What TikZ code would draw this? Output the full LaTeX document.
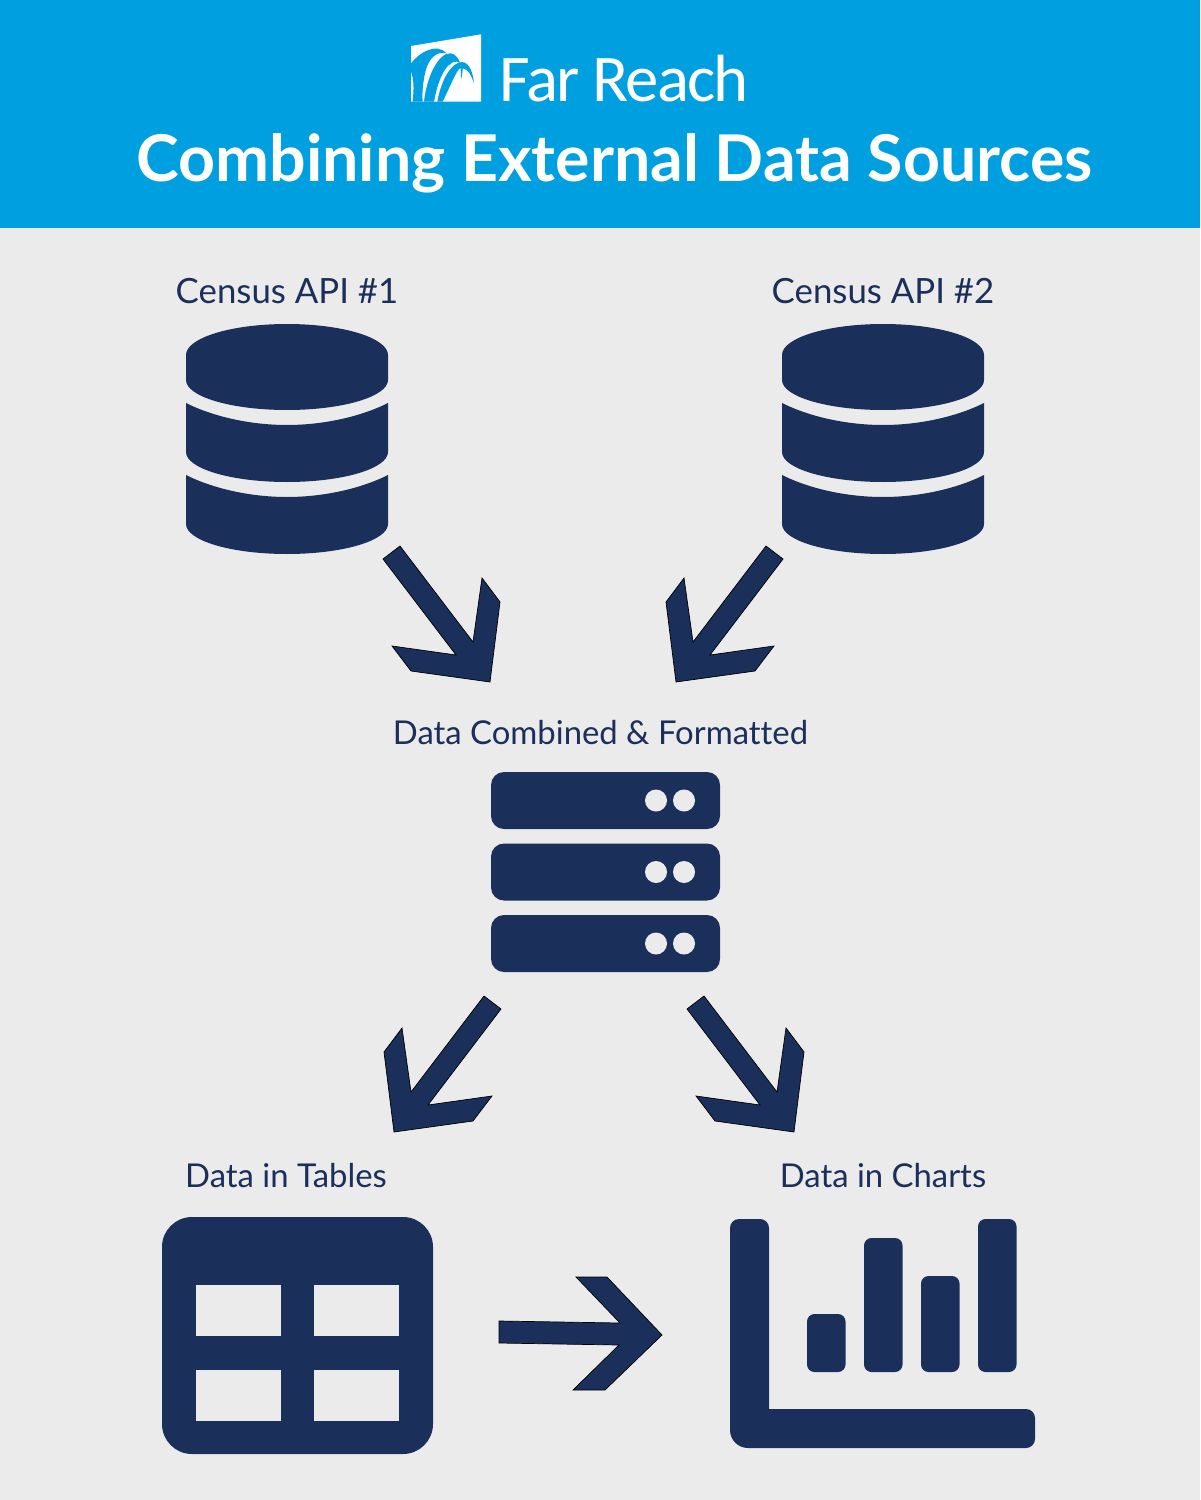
\documentclass[tikz,border=0pt]{standalone}
\usepackage{fontspec}
\setmainfont[Ligatures=NoCommon]{Lato}
\newfontfamily\logofont[LetterSpace=-3]{Carlito}
\usetikzlibrary{positioning}
\definecolor{navy}{HTML}{1B2F5B}
\definecolor{banner}{HTML}{009FDF}
\definecolor{page}{HTML}{EBEBEB}
\begin{document}
\begin{tikzpicture}[x=0.02cm, y=-0.02cm]
\tikzstyle{lbl}=[anchor=base, inner sep=0pt, text=navy, font=\fontsize{18.7}{24}\selectfont]
\tikzstyle{apilbl}=[lbl, font=\fontsize{19.8}{24}\selectfont]
\tikzstyle{ttl}=[anchor=base, inner sep=0pt, text=white]
\tikzstyle{blk}=[fill=navy, draw=black, line width=0.4pt]
\tikzstyle{srvrow}=[fill=navy, rounded corners=0.26cm]
\tikzset{
  database/.pic={
    \fill[navy] (0,31) arc[start angle=180, end angle=360, x radius=101, y radius=31]
      -- (202,56) arc[start angle=0, end angle=180, x radius=101, y radius=30] -- cycle;
    \foreach \dy in {0,72}{
      \fill[navy] (0,79+\dy) .. controls (30,94+\dy) and (68,101+\dy) .. (101,101+\dy)
        .. controls (134,101+\dy) and (172,94+\dy) .. (202,79+\dy)
        -- (202,128+\dy) arc[start angle=0, end angle=180, x radius=101, y radius=30] -- cycle;}
  },
  slantarrow/.pic={
    \draw[blk] (383,559) -- (400,546) -- (473,642) -- (482,578) -- (500,602) -- (490,682)
      -- (411,671) -- (392,646) -- (456,655) -- cycle;
  }
}
\fill[page] (0,0) rectangle (1200,1500);
\fill[banner] (0,0) rectangle (1200,228);
% logo
\begin{scope}[shift={(400,20)}, scale=1/3]
\fill[white] (33,78) -- (243,43) -- (243,245) -- (33,245) -- cycle;
\fill[banner] (33,130) .. controls (60,95) and (110,68) .. (140,100)
  .. controls (112,92) and (84,112) .. (74,165) .. controls (68,195) and (66,225) .. (68,245)
  -- (38,245) .. controls (42,205) and (42,180) .. (33,155) -- cycle;
\fill[banner] (72,245) .. controls (80,170) and (115,100) .. (150,100)
  .. controls (165,100) and (175,115) .. (180,128) .. controls (152,112) and (118,155) .. (102,245) -- cycle;
\fill[banner] (112,245) .. controls (125,175) and (155,128) .. (185,126)
  .. controls (210,126) and (220,165) .. (222,190) .. controls (215,170) and (205,142) .. (180,145)
  .. controls (170,150) and (150,200) .. (128,245) -- cycle;
\fill[banner] (146,110) -- (150,143) -- (153,110) -- cycle;
\fill[banner] (181,135) -- (184,178) -- (190,135) -- cycle;
\end{scope}
\node[ttl, font=\logofont\fontsize{38}{44}\selectfont] (brand) at (624,102) {Far Reach};
\node[ttl, font=\bfseries\fontsize{36.7}{46}\selectfont] (title) at (614.5,182) {Combining External Data Sources};
% labels
\node[apilbl] (api1) at (287,304) {Census API \#1};
\node[apilbl] (api2) at (883,304) {Census API \#2};
\node[lbl] (combined) at (600.5,744) {Data Combined \& Formatted};
\node[lbl] (tables) at (286,1187) {Data in Tables};
\node[lbl] (charts) at (883,1187) {Data in Charts};
\pic at (186,324) {database};
\pic at (782,324) {database};
\foreach \x/\y/\s in {0/0/1, 1166/0/-1, 884/450/-1, 304/450/1}{
\pic[xscale=\s] at (\x,\y) {slantarrow};}
% server
\foreach \y in {772,843.5,915}{
\fill[srvrow] (491,\y) rectangle (720,\y+57);
\fill[page] (656,\y+28.5) circle (11) (684,\y+28.5) circle (11);}
% table
\fill[navy, rounded corners=0.6cm] (162,1217) rectangle (433,1454);
\foreach \x in {196,314}{
\foreach \y in {1285,1370}{
\fill[page] (\x,\y) rectangle (\x+85,\y+51);}}
\draw[blk] (499,1321) -- (620,1323) -- (576,1277) -- (607,1277) -- (662,1335) -- (605,1390)
  -- (573,1390) -- (619,1345) -- (499,1343) -- cycle;
% chart
\fill[navy] (739,1219) -- (760,1219) arc[start angle=-90, end angle=0, radius=9]
  -- (769,1409) -- (1026,1409) arc[start angle=-90, end angle=0, radius=9]
  -- (1035,1439) arc[start angle=0, end angle=90, radius=9]
  -- (748,1448) arc[start angle=90, end angle=180, radius=18]
  -- (730,1228) arc[start angle=180, end angle=270, radius=9] -- cycle;
\foreach \x/\y in {807/1314, 864/1238, 921/1276, 978/1219}{
\fill[navy, rounded corners=0.15cm] (\x,\y) rectangle (\x+38.5,1372);}
\end{tikzpicture}
\end{document}
